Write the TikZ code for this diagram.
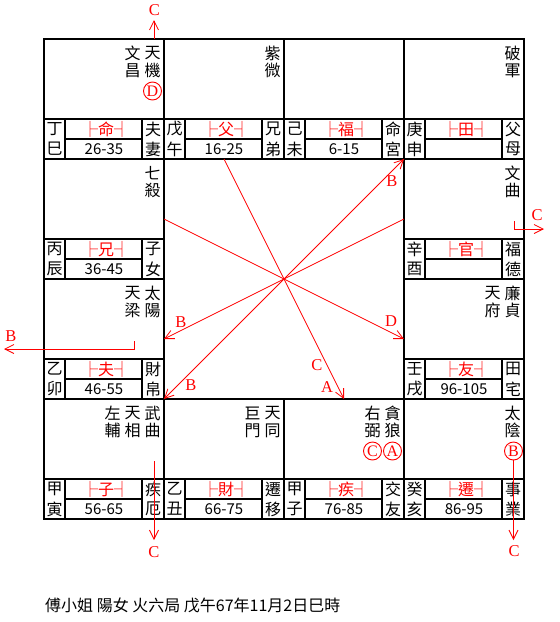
\documentclass[tikz,border=0pt]{standalone}
\usepackage{fontspec}
\setmainfont{Noto Sans CJK TC}
\newfontfamily\latn{Liberation Serif}
\usetikzlibrary{arrows.meta}
\tikzset{
  gridline/.style={line width=1.9pt, black},
  cj/.style={font=\fontsize{16}{16}\selectfont, inner sep=0pt},
  agetxt/.style={font=\fontsize{15}{15}\selectfont, inner sep=0pt},
  palred/.style={cj, red},
  redline/.style={red, line width=0.8pt},
  arr/.style={redline, -{Straight Barb[length=9pt,width=9pt]}},
  darr/.style={redline, {Straight Barb[length=9pt,width=9pt]}-{Straight Barb[length=9pt,width=9pt]}},
  lab/.style={red, font=\latn\fontsize{16.5}{16.5}\selectfont, inner sep=0pt},
  circ/.style={circle, draw=red, line width=0.9pt, minimum size=18pt, inner sep=0pt, red, font=\latn\fontsize{16}{16}\selectfont},
}
% cell: name, x0, y0, stem1, stem2, palace1, palace2, red char, age
\newcommand\zwcell[9]{%
  \draw[gridline] (#2,#3) rectangle ++(120,120);
  \draw[gridline] (#2,#3+80) -- ++(120,0)
                  (#2+21,#3+80) -- ++(0,40)
                  (#2+98,#3+80) -- ++(0,40)
                  (#2+21,#3+100) -- (#2+98,#3+100);
  \node[cj] (#1g1) at (#2+10.5,#3+90) {#4};
  \node[cj] (#1g2) at (#2+10.5,#3+110) {#5};
  \node[cj] (#1p1) at (#2+109,#3+90) {#6};
  \node[cj] (#1p2) at (#2+109,#3+110) {#7};
  \node[palred] (#1r) at (#2+62,#3+90) {├#8┤};
  \node[agetxt] (#1a) at (#2+60,#3+110) {#9};
}
% star column: name, x, y, char1, char2
\newcommand\zwstar[5]{%
  \node[cj] (#1u) at (#2,#3) {#4};
  \node[cj] (#1d) at (#2,#3+17.5) {#5};
}
\begin{document}
\begin{tikzpicture}[x=1pt,y=-1pt]
\useasboundingbox (0,0) rectangle (560,622);
% twelve palaces
\zwcell{si}{44}{39}{丁}{巳}{夫}{妻}{命}{26-35}
\zwcell{wu}{164}{39}{戊}{午}{兄}{弟}{父}{16-25}
\zwcell{wei}{284}{39}{己}{未}{命}{宮}{福}{6-15}
\zwcell{shen}{404}{39}{庚}{申}{父}{母}{田}{}
\zwcell{chen}{44}{159}{丙}{辰}{子}{女}{兄}{36-45}
\zwcell{you}{404}{159}{辛}{酉}{福}{德}{官}{}
\zwcell{mao}{44}{279}{乙}{卯}{財}{帛}{夫}{46-55}
\zwcell{xu}{404}{279}{壬}{戌}{田}{宅}{友}{96-105}
\zwcell{yin}{44}{399}{甲}{寅}{疾}{厄}{子}{56-65}
\zwcell{chou}{164}{399}{乙}{丑}{遷}{移}{財}{66-75}
\zwcell{zi}{284}{399}{甲}{子}{交}{友}{疾}{76-85}
\zwcell{hai}{404}{399}{癸}{亥}{事}{業}{遷}{86-95}
% stars
\zwstar{sa}{152.5}{53}{天}{機}
\zwstar{sb}{132.5}{53}{文}{昌}
\node[circ] (cD) at (152.5,91) {D};
\zwstar{sc}{272.5}{53}{紫}{微}
\zwstar{sd}{512.5}{53}{破}{軍}
\zwstar{se}{152.5}{173}{七}{殺}
\zwstar{sf}{512.5}{173}{文}{曲}
\zwstar{sg}{152.5}{293}{太}{陽}
\zwstar{sh}{132.5}{293}{天}{梁}
\zwstar{si}{512.5}{293}{廉}{貞}
\zwstar{sj}{492.5}{293}{天}{府}
\zwstar{sk}{152.5}{413}{武}{曲}
\zwstar{sl}{132.5}{413}{天}{相}
\zwstar{sm}{112.5}{413}{左}{輔}
\zwstar{sn}{272.5}{413}{天}{同}
\zwstar{so}{252.5}{413}{巨}{門}
\zwstar{sp}{392.5}{413}{貪}{狼}
\zwstar{sq}{372.5}{413}{右}{弼}
\node[circ] (cA) at (392.5,451) {A};
\node[circ] (cC) at (372.5,451) {C};
\zwstar{sr}{512.5}{413}{太}{陰}
\node[circ] (cB) at (513.5,451) {B};
% centre lines
\coordinate (p1) at (224,159); \coordinate (p2) at (344,399);
\coordinate (q1) at (164,219); \coordinate (q2) at (404,339);
\coordinate (r1) at (404,219); \coordinate (r2) at (164,339);
\coordinate (t1) at (164,399); \coordinate (t2) at (404,159);
\draw[arr] (p1) -- (p2);
\draw[arr] (q1) -- (q2);
\draw[arr] (r1) -- (r2);
\draw[darr] (t1) -- (t2);
\node[lab] (lC1) at (317,365) {C};
\node[lab] (lA1) at (327,387) {A};
\node[lab] (lD1) at (391,321) {D};
\node[lab] (lB1) at (181,322) {B};
\node[lab] (lB2) at (392,181) {B};
\node[lab] (lB3) at (191,385) {B};
% outer arrows
\coordinate (oT1) at (154,39); \coordinate (oT2) at (154,20);
\draw[arr] (oT1) -- (oT2);
\node[lab] (lT) at (154.5,10) {C};
\coordinate (oR1) at (514,221); \coordinate (oR2) at (544,229);
\draw[arr] (oR1) |- (oR2);
\node[lab] (lR) at (537,215.5) {C};
\coordinate (oL1) at (134,341); \coordinate (oL2) at (4,349);
\draw[arr] (oL1) |- (oL2);
\node[lab] (lL) at (11,336) {B};
\coordinate (oB1) at (154,461); \coordinate (oB2) at (154,540);
\draw[arr] (oB1) -- (oB2);
\node[lab] (lB4) at (154,552) {C};
\coordinate (oB4) at (513.5,540);
\draw[arr] (cB.south) -- (oB4);
\node[lab] (lB5) at (514,551) {C};
% footer
\node[anchor=west, font=\fontsize{16}{16}\selectfont, inner sep=0pt] (foot) at (45,605) {傅小姐 陽女 火六局 戊午67年11月2日巳時};
\end{tikzpicture}
\end{document}
